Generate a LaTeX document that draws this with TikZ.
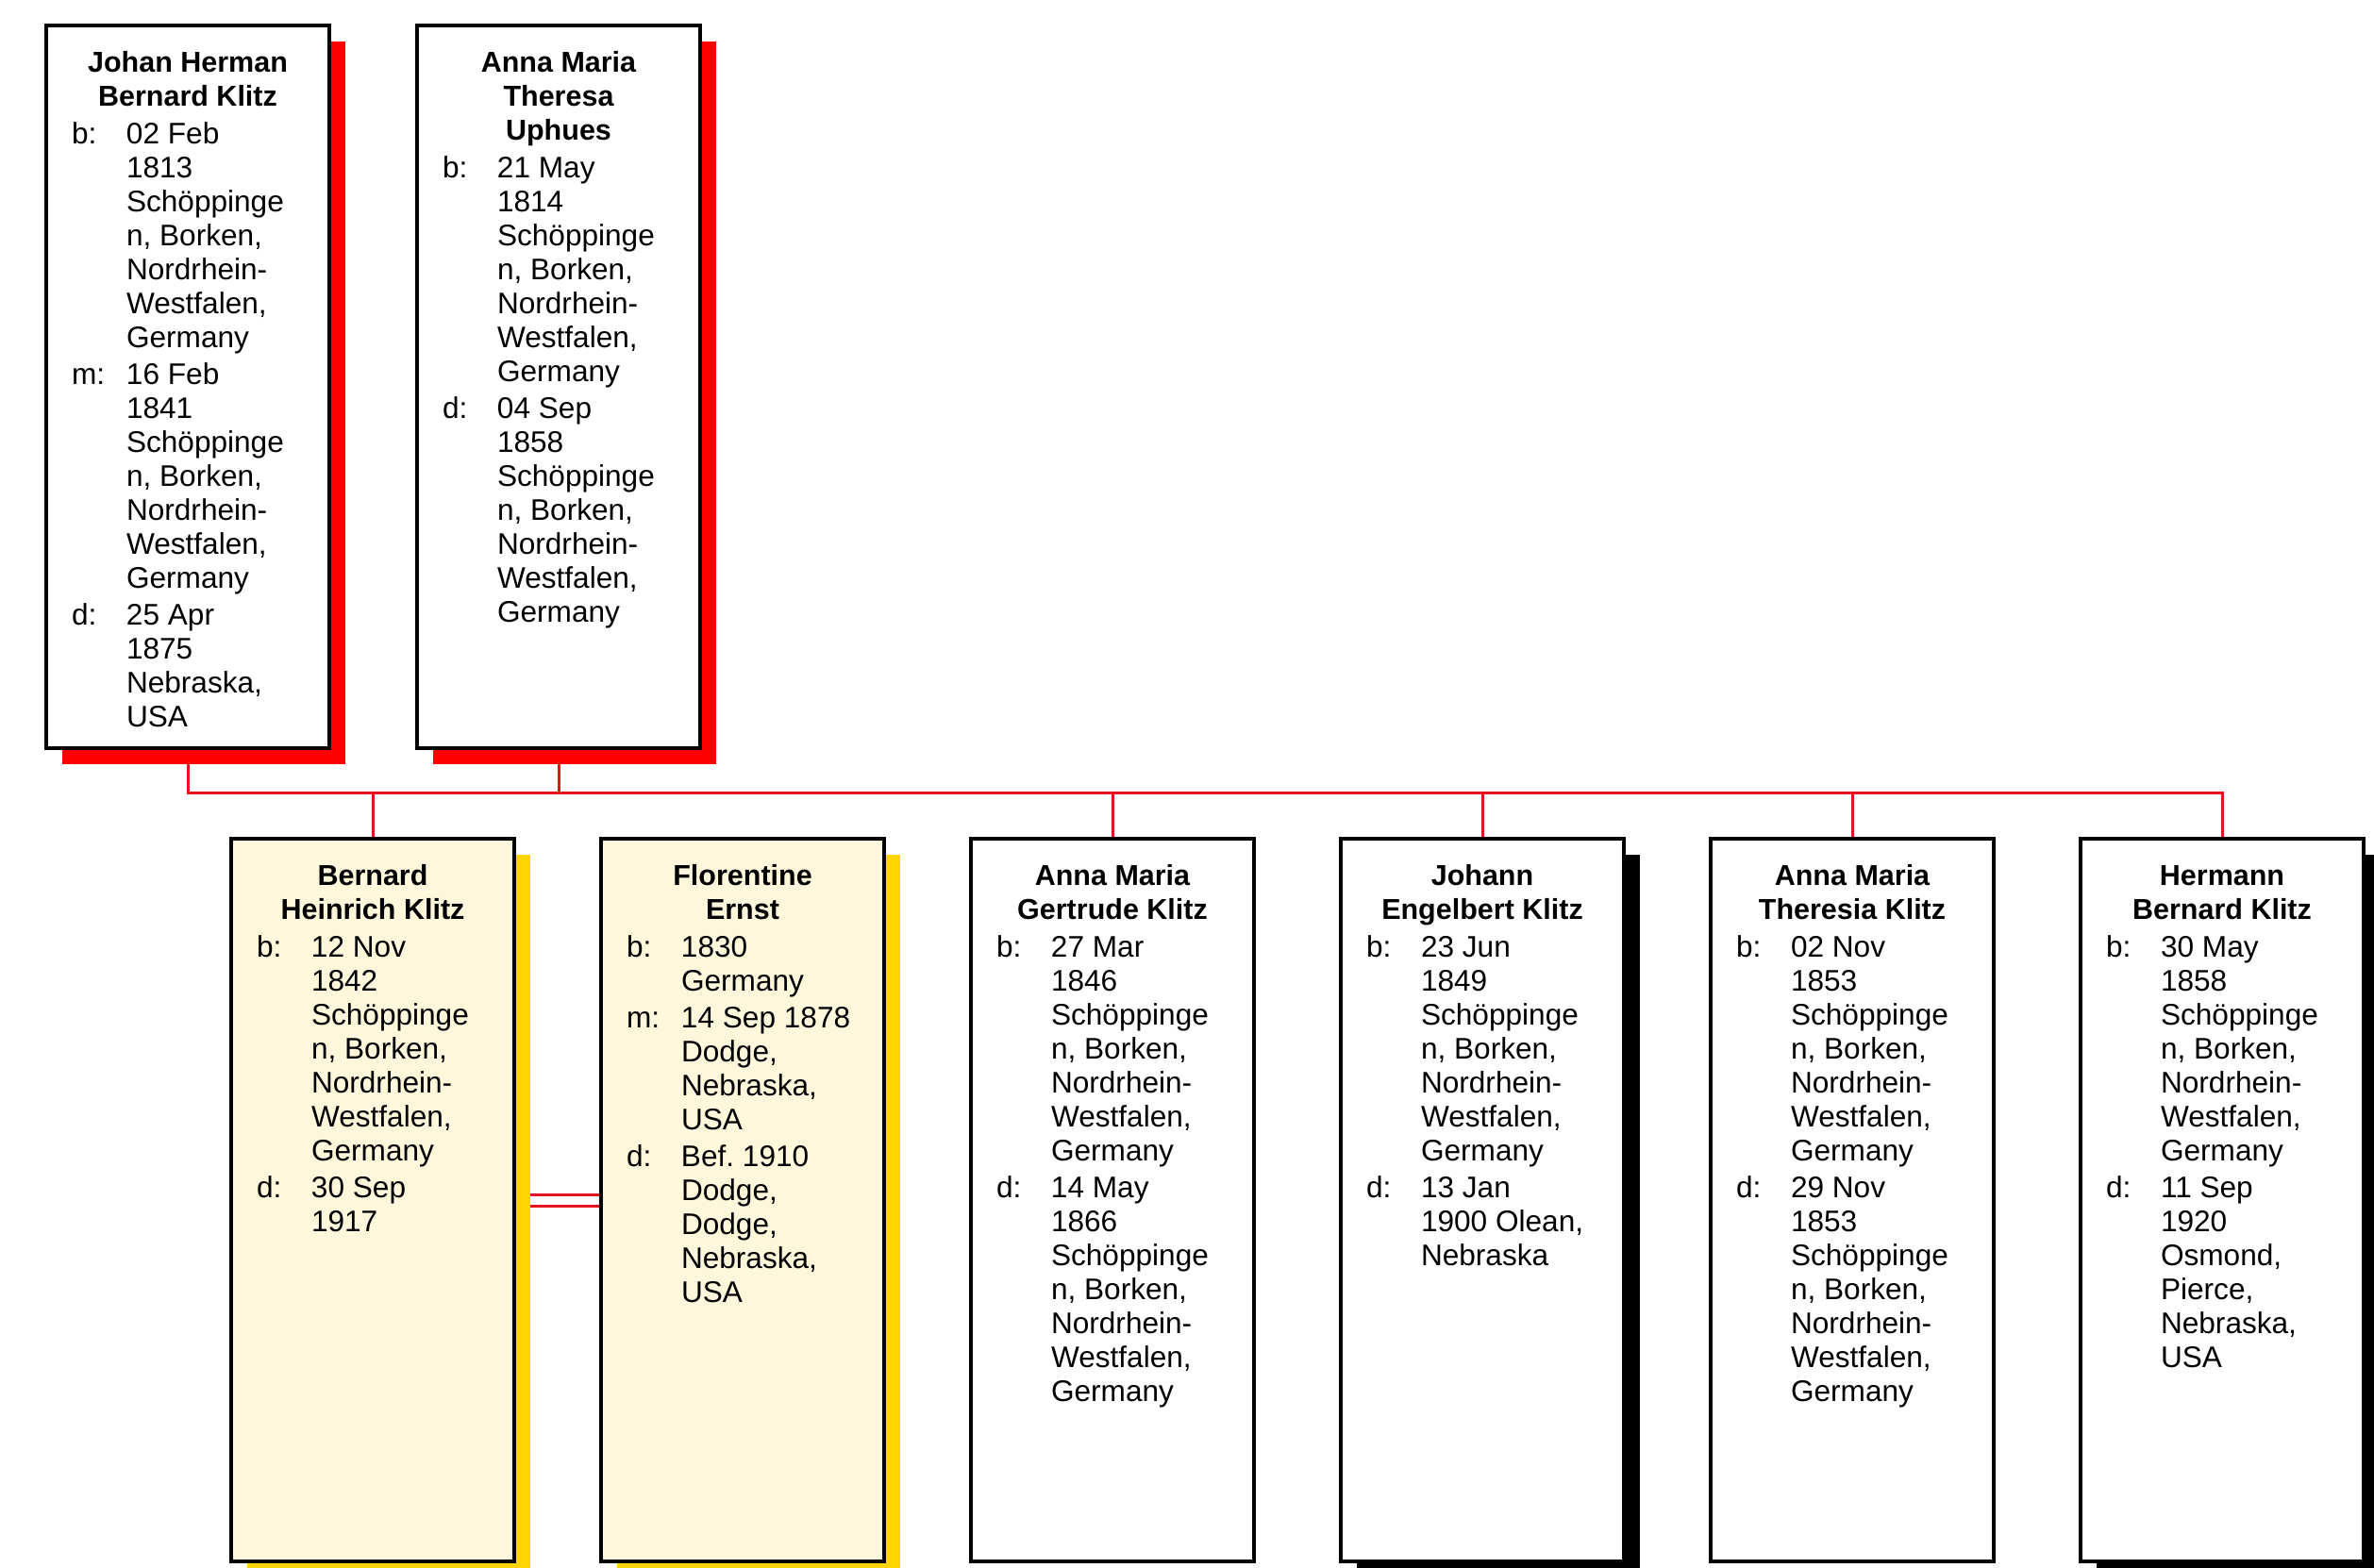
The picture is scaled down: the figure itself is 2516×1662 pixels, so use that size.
\documentclass[tikz,border=0pt]{standalone}
\usepackage{fontspec}
\setmainfont{Liberation Sans}
\usetikzlibrary{shadows,backgrounds}
\definecolor{relred}{RGB}{228,20,30}
\definecolor{shred}{RGB}{255,0,0}
\definecolor{shyellow}{RGB}{255,213,0}
\definecolor{creamfill}{RGB}{255,247,220}
\newcommand\ttl[1]{\multicolumn{2}{c}{\fontsize{30.5}{36}\selectfont\bfseries #1}}
\newcommand\card[1]{\begin{tabular}{@{}p{58pt}@{}p{188pt}@{}}#1\end{tabular}}
\newcommand\gap{\\[3pt]}
\frenchspacing
\begin{document}
\begin{tikzpicture}[x=1pt,y=-1pt,
  person/.style={draw=black, line width=4pt, rectangle, minimum width=300pt,
    minimum height=766pt, inner sep=0pt, outer sep=0pt, anchor=north west, fill=white},
  redshadow/.style={drop shadow={shadow xshift=17pt, shadow yshift=-17pt, fill=shred, opacity=1}},
  yellowshadow/.style={drop shadow={shadow xshift=17pt, shadow yshift=-17pt, fill=shyellow, opacity=1}},
  blackshadow/.style={drop shadow={shadow xshift=17pt, shadow yshift=-17pt, fill=black, opacity=1}},
  info/.style={anchor=north, inner sep=0pt, font=\fontsize{31.6}{36}\selectfont},
  rel/.style={draw=relred, line width=3pt}]
\useasboundingbox (0,0) rectangle (2516,1662);
\begin{pgfonlayer}{background}
\fill[white] (0,0) rectangle (2516,1662);
\end{pgfonlayer}

% parents
\node[person, redshadow] (b1) at (49,27) {};
\node[person, redshadow] (b2) at (442,27) {};
% children row
\node[person, yellowshadow, fill=creamfill] (c1) at (245,889) {};
\node[person, yellowshadow, fill=creamfill] (c2) at (637,889) {};
\node[person] (c3) at (1029,889) {};
\node[person, blackshadow] (c4) at (1421,889) {};
\node[person] (c5) at (1813,889) {};
\node[person, blackshadow] (c6) at (2205,889) {};

\node[info] (b1t) at ([yshift=-23.8pt]b1.north) {\card{
 \ttl{Johan Herman}\\ \ttl{Bernard Klitz}\\[4pt]
 b: & 02 Feb\\ & 1813\\ & Schöppinge\\ & n, Borken,\\ & Nordrhein-\\ & Westfalen,\\ & Germany\gap
 m: & 16 Feb\\ & 1841\\ & Schöppinge\\ & n, Borken,\\ & Nordrhein-\\ & Westfalen,\\ & Germany\gap
 d: & 25 Apr\\ & 1875\\ & Nebraska,\\ & USA}};
\node[info] (b2t) at ([yshift=-23.8pt]b2.north) {\card{
 \ttl{Anna Maria}\\ \ttl{Theresa}\\ \ttl{Uphues}\\[4pt]
 b: & 21 May\\ & 1814\\ & Schöppinge\\ & n, Borken,\\ & Nordrhein-\\ & Westfalen,\\ & Germany\gap
 d: & 04 Sep\\ & 1858\\ & Schöppinge\\ & n, Borken,\\ & Nordrhein-\\ & Westfalen,\\ & Germany}};
\node[info] (c1t) at ([yshift=-23.8pt]c1.north) {\card{
 \ttl{Bernard}\\ \ttl{Heinrich Klitz}\\[4pt]
 b: & 12 Nov\\ & 1842\\ & Schöppinge\\ & n, Borken,\\ & Nordrhein-\\ & Westfalen,\\ & Germany\gap
 d: & 30 Sep\\ & 1917}};
\node[info] (c2t) at ([yshift=-23.8pt]c2.north) {\card{
 \ttl{Florentine}\\ \ttl{Ernst}\\[4pt]
 b: & 1830\\ & Germany\gap
 m: & 14 Sep 1878\\ & Dodge,\\ & Nebraska,\\ & USA\gap
 d: & Bef.\ 1910\\ & Dodge,\\ & Dodge,\\ & Nebraska,\\ & USA}};
\node[info] (c3t) at ([yshift=-23.8pt]c3.north) {\card{
 \ttl{Anna Maria}\\ \ttl{Gertrude Klitz}\\[4pt]
 b: & 27 Mar\\ & 1846\\ & Schöppinge\\ & n, Borken,\\ & Nordrhein-\\ & Westfalen,\\ & Germany\gap
 d: & 14 May\\ & 1866\\ & Schöppinge\\ & n, Borken,\\ & Nordrhein-\\ & Westfalen,\\ & Germany}};
\node[info] (c4t) at ([yshift=-23.8pt]c4.north) {\card{
 \ttl{Johann}\\ \ttl{Engelbert Klitz}\\[4pt]
 b: & 23 Jun\\ & 1849\\ & Schöppinge\\ & n, Borken,\\ & Nordrhein-\\ & Westfalen,\\ & Germany\gap
 d: & 13 Jan\\ & 1900 Olean,\\ & Nebraska}};
\node[info] (c5t) at ([yshift=-23.8pt]c5.north) {\card{
 \ttl{Anna Maria}\\ \ttl{Theresia Klitz}\\[4pt]
 b: & 02 Nov\\ & 1853\\ & Schöppinge\\ & n, Borken,\\ & Nordrhein-\\ & Westfalen,\\ & Germany\gap
 d: & 29 Nov\\ & 1853\\ & Schöppinge\\ & n, Borken,\\ & Nordrhein-\\ & Westfalen,\\ & Germany}};
\node[info] (c6t) at ([yshift=-23.8pt]c6.north) {\card{
 \ttl{Hermann}\\ \ttl{Bernard Klitz}\\[4pt]
 b: & 30 May\\ & 1858\\ & Schöppinge\\ & n, Borken,\\ & Nordrhein-\\ & Westfalen,\\ & Germany\gap
 d: & 11 Sep\\ & 1920\\ & Osmond,\\ & Pierce,\\ & Nebraska,\\ & USA}};

\coordinate (fam) at (395,840);
\begin{pgfonlayer}{background}
\draw[rel] (b1.south) -- (b1.south |- fam) -- (c6.north |- fam) -- (c6.north);
\draw[rel] (b2.south) -- (b2.south |- fam);
\foreach \c in {c1,c3,c4,c5} \draw[rel] (\c.north) -- (\c.north |- fam);
\draw[rel] ([yshift=6pt]c1.east) -- ([yshift=6pt]c2.west);
\draw[rel] ([yshift=-6pt]c1.east) -- ([yshift=-6pt]c2.west);
\end{pgfonlayer}
\end{tikzpicture}
\end{document}
